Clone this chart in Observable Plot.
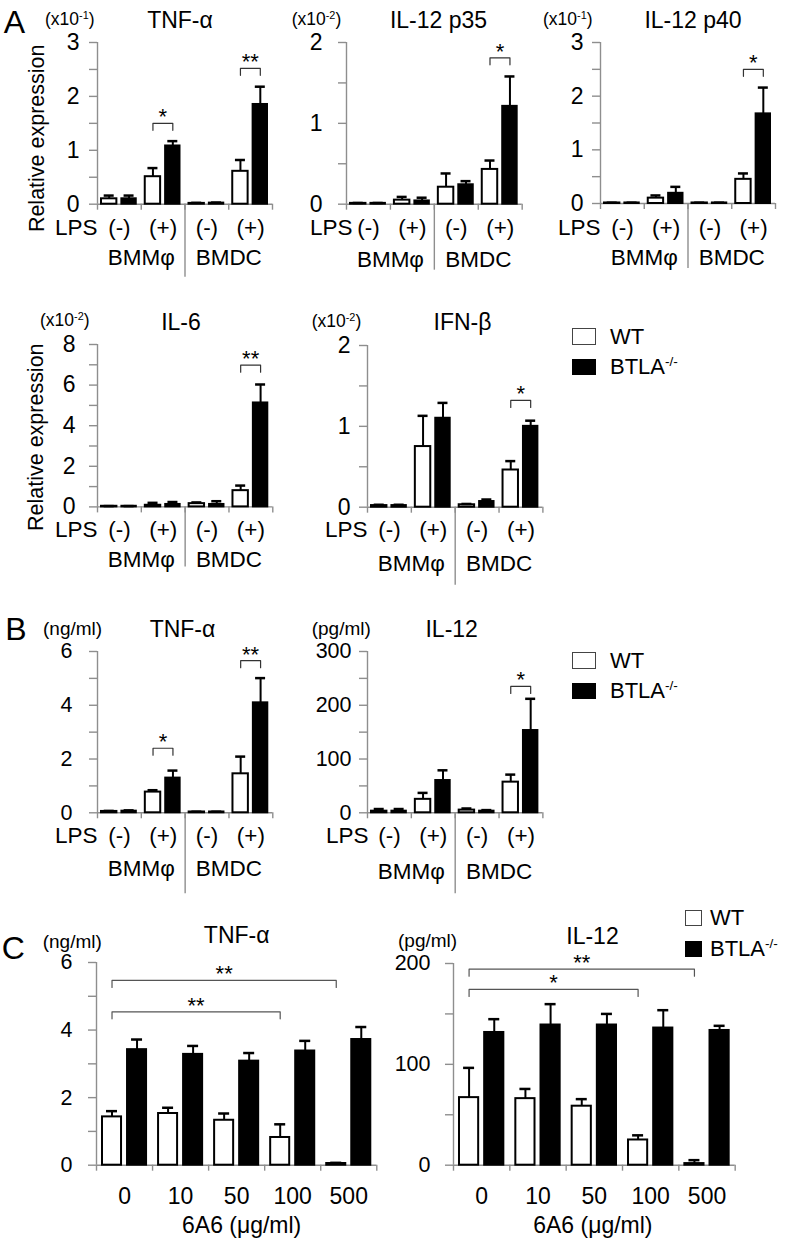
<!DOCTYPE html>
<html><head><meta charset="utf-8">
<script src="https://cdn.jsdelivr.net/npm/d3@7"></script>
<script src="https://cdn.jsdelivr.net/npm/@observablehq/plot@0.6"></script>
<style>
body{margin:0;background:#fff;}
#fig{position:relative;width:796px;height:1238px;overflow:hidden;font-family:"Liberation Sans",Arial,Helvetica,sans-serif;color:#000;background:#fff;}
.ttl{position:absolute;transform:translate(-50%,-50%);white-space:nowrap;line-height:1;}
.unit{position:absolute;transform:translateY(-50%);white-space:nowrap;line-height:1;}
sup{font-size:0.62em;vertical-align:0.6em;line-height:0;}
.letter{position:absolute;transform:translate(-50%,-50%);font-size:32px;line-height:1;}
.sq{position:absolute;box-sizing:border-box;}
.leg{position:absolute;transform:translateY(-50%);font-size:22px;line-height:1;white-space:nowrap;}
</style></head><body><div id="fig"></div><script>
// ---------- data ----------
const stimGroups = ["BMMφ (-)", "BMMφ (+)", "BMDC (-)", "BMDC (+)"];
const lpsLabels = ["(-)", "(+)", "(-)", "(+)"];
const cellTypes = ["BMMφ", "BMDC"];
const doses = ["0", "10", "50", "100", "500"];
const genotypes = ["WT", "BTLA-/-"];

// A: relative expression (mRNA)
const tnfA_wt = [0.10, 0.51, 0.015, 0.61], tnfA_wtSD = [0.06, 0.16, 0.01, 0.21];
const tnfA_ko = [0.10, 1.08, 0.02, 1.85], tnfA_koSD = [0.06, 0.09, 0.01, 0.33];
const tnfA_sig = [{group: 1, level: 1.50, label: "*"}, {group: 3, level: 2.52, label: "**"}];

const p35_wt = [0.01, 0.05, 0.21, 0.43], p35_wtSD = [0.005, 0.04, 0.17, 0.11];
const p35_ko = [0.01, 0.04, 0.24, 1.21], p35_koSD = [0.005, 0.04, 0.045, 0.37];
const p35_sig = [{group: 3, level: 1.81, label: "*"}];

const p40_wt = [0.01, 0.10, 0.01, 0.45], p40_wtSD = [0.005, 0.05, 0.005, 0.11];
const p40_ko = [0.01, 0.19, 0.01, 1.67], p40_koSD = [0.005, 0.12, 0.005, 0.49];
const p40_sig = [{group: 3, level: 2.50, label: "*"}];

const il6_wt = [0.03, 0.08, 0.16, 0.80], il6_wtSD = [0.01, 0.12, 0.06, 0.25];
const il6_ko = [0.03, 0.12, 0.12, 5.12], il6_koSD = [0.01, 0.12, 0.16, 0.91];
const il6_sig = [{group: 3, level: 6.98, label: "**"}];

const ifnb_wt = [0.02, 0.75, 0.03, 0.46], ifnb_wtSD = [0.01, 0.38, 0.01, 0.11];
const ifnb_ko = [0.02, 1.10, 0.07, 1.00], ifnb_koSD = [0.01, 0.19, 0.025, 0.07];
const ifnb_sig = [{group: 3, level: 1.32, label: "*"}];

// B: secreted protein
const tnfB_wt = [0.05, 0.77, 0.03, 1.45], tnfB_wtSD = [0.02, 0.07, 0.01, 0.64];
const tnfB_ko = [0.06, 1.29, 0.03, 4.09], tnfB_koSD = [0.03, 0.28, 0.01, 0.92];
const tnfB_sig = [{group: 1, level: 2.40, label: "*"}, {group: 3, level: 5.66, label: "**"}];

const il12B_wt = [3, 25, 5, 57], il12B_wtSD = [4, 12, 3, 14];
const il12B_ko = [3, 60, 3, 153], il12B_koSD = [4, 19, 2, 59];
const il12B_sig = [{group: 3, level: 235, label: "*"}];

// C: anti-BTLA 6A6 dose
const tnfC_wt = [1.43, 1.53, 1.33, 0.82, 0.05], tnfC_wtSD = [0.17, 0.17, 0.20, 0.39, 0.02];
const tnfC_ko = [3.42, 3.28, 3.08, 3.38, 3.72], tnfC_koSD = [0.30, 0.25, 0.24, 0.30, 0.37];
const tnfC_sig = [{from: 0, to: 3, level: 4.54, label: "**"}, {from: 0, to: 4, level: 5.47, label: "**"}];

const il12C_wt = [67, 66, 58.5, 25, 1.6], il12C_wtSD = [29.5, 9.6, 7, 4.6, 3.4];
const il12C_ko = [131.6, 139, 139, 136, 133.6], il12C_koSD = [13.2, 20.7, 11, 17.7, 4.6];
const il12C_sig = [{from: 0, to: 3, level: 174.3, label: "*"}, {from: 0, to: 4, level: 194.4, label: "**"}];

// ---------- drawing ----------
const FONT = '"Liberation Sans", Arial, Helvetica, sans-serif';
const GRAY = "#8e8e8e";
const LABEL_SIZE = 22.5;
const fig = document.getElementById("fig");
const geoA = {wtIn: [4, 2.5], koIn: [2.5, 5], wtDx: 0.75, koDx: -1.25, cap: 5};
const geoC = {wtIn: [6, 3], koIn: [3, 6], wtDx: 1.5, koDx: -1.5, cap: 5.5};

function buildPanel(s) {
  const n = s.groups.length;
  const ml = 75, mr = 10, mt = 12, mb = 95;
  const W = ml + s.innerW + mr, H = mt + s.innerH + mb;
  const ux = p => p * n / s.innerW;
  const uy = p => p * s.ymax / s.innerH;
  const g = s.geo;
  const rows = s.groups.map((name, i) => ({i, name, wt: s.wt[i], wtSD: s.wtSD[i], ko: s.ko[i], koSD: s.koSD[i]}));
  const cWT = i => i + 0.25 + ux(g.wtDx);
  const cKO = i => i + 0.75 + ux(g.koDx);
  const ticks = d3.range(0, s.ymax + 1e-9, s.tickStep);
  const fmt = d => Math.abs(d / s.labelStep - Math.round(d / s.labelStep)) < 1e-9 ? String(d) : "";
  const brackets = s.sig.map((b, k) => ({
    id: k, level: b.level, label: b.label,
    x1: s.kind === "lps" ? cWT(b.group) : cWT(b.from),
    x2: s.kind === "lps" ? cKO(b.group) : cWT(b.to)
  }));
  const leg = uy(7);
  const bracketPts = brackets.flatMap(b => [
    {id: b.id, x: b.x1, y: b.level - leg}, {id: b.id, x: b.x1, y: b.level},
    {id: b.id, x: b.x2, y: b.level}, {id: b.id, x: b.x2, y: b.level - leg}
  ]);
  const marks = [
    Plot.ruleY([0], {stroke: GRAY, strokeWidth: 1.4}),
    Plot.ruleX(d3.range(n + 1), {x: d => d, y1: 0, y2: -uy(6), stroke: GRAY, strokeWidth: 1.4}),
    Plot.ruleX([0], {x: d => d, y1: 0, y2: s.ymax, stroke: GRAY, strokeWidth: 1.4}),
    Plot.axisY({ticks, tickFormat: fmt, tickSize: 8, tickPadding: s.tickPad, stroke: GRAY, strokeWidth: 1.4, fontSize: s.tickFont, label: null}),
    Plot.rect(rows, {x1: d => d.i, x2: d => d.i + 0.5, y1: 0, y2: "wt", fill: "white", stroke: "black", strokeWidth: 2, insetLeft: g.wtIn[0], insetRight: g.wtIn[1]}),
    Plot.rect(rows, {x1: d => d.i + 0.5, x2: d => d.i + 1, y1: 0, y2: "ko", fill: "black", stroke: "black", strokeWidth: 2, insetLeft: g.koIn[0], insetRight: g.koIn[1]}),
    Plot.ruleX(rows, {x: d => cWT(d.i), y1: "wt", y2: d => d.wt + d.wtSD, stroke: "black", strokeWidth: 2}),
    Plot.ruleY(rows, {y: d => d.wt + d.wtSD, x1: d => cWT(d.i) - ux(g.cap), x2: d => cWT(d.i) + ux(g.cap), stroke: "black", strokeWidth: 2.5}),
    Plot.ruleX(rows, {x: d => cKO(d.i), y1: "ko", y2: d => d.ko + d.koSD, stroke: "black", strokeWidth: 2}),
    Plot.ruleY(rows, {y: d => d.ko + d.koSD, x1: d => cKO(d.i) - ux(g.cap), x2: d => cKO(d.i) + ux(g.cap), stroke: "black", strokeWidth: 2.5}),
    Plot.line(bracketPts, {x: "x", y: "y", z: "id", stroke: s.bracketColor, strokeWidth: 1.2}),
    Plot.text(brackets, {x: d => (d.x1 + d.x2) / 2, y: "level", text: "label", lineAnchor: "bottom", dy: 1, fontSize: 22})
  ];
  if (s.kind === "lps") {
    marks.push(
      Plot.text(rows, {x: d => d.i + 0.5, y: 0, text: d => lpsLabels[d.i], dy: s.lpsDy, fontSize: LABEL_SIZE}),
      Plot.text(["LPS"], {x: 0, y: 0, dx: s.lpsDx, dy: s.lpsDy, textAnchor: "end", fontSize: LABEL_SIZE}),
      Plot.text(cellTypes, {x: (d, i) => 1 + 2 * i, y: 0, dy: s.cellDy, fontSize: LABEL_SIZE}),
      Plot.ruleX([2], {x: d => d, y1: 0, y2: -uy(s.sepLen), stroke: GRAY, strokeWidth: 1.4})
    );
  } else {
    marks.push(
      Plot.text(rows, {x: d => d.i + 0.5, y: 0, text: "name", dy: s.doseDy, fontSize: 23}),
      Plot.text([s.xLabel], {x: n / 2, y: 0, dx: s.xLabelDx, dy: s.xLabelDy, fontSize: 23})
    );
  }
  if (s.rel) {
    marks.push(Plot.text(["Relative expression"], {frameAnchor: "left", textAnchor: "middle", rotate: -90, dx: s.rel.dx, dy: s.rel.dy, fontSize: 21.5}));
  }
  const svg = Plot.plot({
    width: W, height: H, marginLeft: ml, marginRight: mr, marginTop: mt, marginBottom: mb,
    x: {domain: [0, n], axis: null},
    y: {domain: [0, s.ymax], axis: null},
    style: {background: "transparent", overflow: "visible", fontFamily: FONT, fontSize: "20px", color: "black"},
    marks
  });
  svg.style.position = "absolute";
  svg.style.left = (s.axisX - ml) + "px";
  svg.style.top = (s.axisTop - mt) + "px";
  fig.appendChild(svg);

  const t = document.createElement("div");
  t.className = "ttl"; t.textContent = s.title;
  t.style.left = s.titlePos[0] + "px"; t.style.top = s.titlePos[1] + "px"; t.style.fontSize = "23px";
  fig.appendChild(t);
  const u = document.createElement("div");
  u.className = "unit"; u.innerHTML = s.unit;
  u.style.left = s.unitPos[0] + "px"; u.style.top = s.unitPos[1] + "px"; u.style.fontSize = s.unitSize + "px";
  fig.appendChild(u);
}

const lpsBase = {kind: "lps", groups: stimGroups, geo: geoA, bracketColor: "#333"};
const doseBase = {kind: "dose", groups: doses, geo: geoC, bracketColor: "#555", xLabel: "6A6 (μg/ml)", doseDy: 31.7, xLabelDy: 60};

const panels = [
  {...lpsBase, title: "TNF-α", unit: "(x10<sup>-1</sup>)", wt: tnfA_wt, wtSD: tnfA_wtSD, ko: tnfA_ko, koSD: tnfA_koSD, sig: tnfA_sig,
   ymax: 3, tickStep: 0.5, labelStep: 1, axisX: 96.7, axisTop: 42.3, innerW: 175, innerH: 161.7, tickFont: 23, tickPad: 10,
   lpsDy: 24, lpsDx: 0, cellDy: 53.5, sepLen: 73, rel: {dx: -60, dy: 15}, titlePos: [180, 20], unitPos: [45, 19.5], unitSize: 17.5},
  {...lpsBase, title: "IL-12 p35", unit: "(x10<sup>-2</sup>)", wt: p35_wt, wtSD: p35_wtSD, ko: p35_ko, koSD: p35_koSD, sig: p35_sig,
   ymax: 2, tickStep: 0.5, labelStep: 1, axisX: 346, axisTop: 42.3, innerW: 175.7, innerH: 161.7, tickFont: 23, tickPad: 16,
   lpsDy: 24, lpsDx: 6, cellDy: 56, sepLen: 66, titlePos: [438.5, 20], unitPos: [291.7, 19.5], unitSize: 17.5},
  {...lpsBase, title: "IL-12 p40", unit: "(x10<sup>-1</sup>)", wt: p40_wt, wtSD: p40_wtSD, ko: p40_ko, koSD: p40_koSD, sig: p40_sig,
   ymax: 3, tickStep: 0.5, labelStep: 1, axisX: 600, axisTop: 42.3, innerW: 175, innerH: 161, tickFont: 23, tickPad: 9,
   lpsDy: 24.5, lpsDx: 0, cellDy: 54.7, sepLen: 65, titlePos: [693, 20], unitPos: [543, 19.5], unitSize: 17.5},
  {...lpsBase, title: "IL-6", unit: "(x10<sup>-2</sup>)", wt: il6_wt, wtSD: il6_wtSD, ko: il6_ko, koSD: il6_koSD, sig: il6_sig,
   ymax: 8, tickStep: 1, labelStep: 2, axisX: 96.7, axisTop: 344.3, innerW: 175.3, innerH: 162.4, tickFont: 23, tickPad: 14,
   lpsDy: 23, lpsDx: 0, cellDy: 52.5, sepLen: 60, rel: {dx: -61, dy: 11.5}, titlePos: [181, 322], unitPos: [40, 321], unitSize: 17.5},
  {...lpsBase, title: "IFN-β", unit: "(x10<sup>-2</sup>)", wt: ifnb_wt, wtSD: ifnb_wtSD, ko: ifnb_ko, koSD: ifnb_koSD, sig: ifnb_sig,
   ymax: 2, tickStep: 0.5, labelStep: 1, axisX: 367.3, axisTop: 345, innerW: 175.4, innerH: 161.7, tickFont: 23, tickPad: 9,
   lpsDy: 23, lpsDx: 0, cellDy: 56.6, sepLen: 78, titlePos: [462.5, 322], unitPos: [311.7, 321.5], unitSize: 17.5},
  {...lpsBase, title: "TNF-α", unit: "(ng/ml)", wt: tnfB_wt, wtSD: tnfB_wtSD, ko: tnfB_ko, koSD: tnfB_koSD, sig: tnfB_sig,
   ymax: 6, tickStep: 1, labelStep: 2, axisX: 96.7, axisTop: 651, innerW: 175.3, innerH: 161.3, tickFont: 21.5, tickPad: 17,
   lpsDy: 23.5, lpsDx: 0, cellDy: 56, sepLen: 81, titlePos: [182.5, 629], unitPos: [43, 628], unitSize: 19},
  {...lpsBase, title: "IL-12", unit: "(pg/ml)", wt: il12B_wt, wtSD: il12B_wtSD, ko: il12B_ko, koSD: il12B_koSD, sig: il12B_sig,
   ymax: 300, tickStep: 50, labelStep: 100, axisX: 367.3, axisTop: 651, innerW: 175.4, innerH: 161.3, tickFont: 21.5, tickPad: 8,
   lpsDy: 23.5, lpsDx: 1, cellDy: 59, sepLen: 81, titlePos: [451.7, 629], unitPos: [311.7, 628], unitSize: 19},
  {...doseBase, title: "TNF-α", unit: "(ng/ml)", wt: tnfC_wt, wtSD: tnfC_wtSD, ko: tnfC_ko, koSD: tnfC_koSD, sig: tnfC_sig,
   ymax: 6, tickStep: 1, labelStep: 2, axisX: 95.7, axisTop: 962.3, innerW: 280.3, innerH: 202.7, tickFont: 21.5, tickPad: 16,
   xLabelDx: 5, titlePos: [236.7, 935], unitPos: [42.7, 941], unitSize: 19},
  {...doseBase, title: "IL-12", unit: "(pg/ml)", wt: il12C_wt, wtSD: il12C_wtSD, ko: il12C_ko, koSD: il12C_koSD, sig: il12C_sig,
   ymax: 200, tickStep: 50, labelStep: 100, axisX: 453.3, axisTop: 963.3, innerW: 281.7, innerH: 201.7, tickFont: 21.5, tickPad: 15,
   xLabelDx: -1.5, titlePos: [592.5, 936], unitPos: [398, 940], unitSize: 19}
];
panels.forEach(buildPanel);

// panel letters
[["A", 14.5, 21.5], ["B", 15.8, 629], ["C", 13.3, 948]].forEach(([t, x, y]) => {
  const d = document.createElement("div");
  d.className = "letter"; d.textContent = t; d.style.left = x + "px"; d.style.top = y + "px";
  fig.appendChild(d);
});

// legends
function legend(x, yWT, yKO, sqW, sqH, textX) {
  [[0, yWT], [1, yKO]].forEach(([k, y]) => {
    const sq = document.createElement("div");
    sq.className = "sq";
    sq.style.left = x + "px"; sq.style.top = (y - sqH / 2) + "px";
    sq.style.width = sqW + "px"; sq.style.height = sqH + "px";
    sq.style.background = k === 0 ? "white" : "black";
    sq.style.border = k === 0 ? "1.5px solid #444" : "none";
    fig.appendChild(sq);
    const t = document.createElement("div");
    t.className = "leg";
    t.innerHTML = k === 0 ? genotypes[0] : "BTLA<sup>-/-</sup>";
    t.style.left = textX + "px"; t.style.top = y + "px";
    fig.appendChild(t);
  });
}
legend(572, 336.5, 367, 24, 16.5, 610);
legend(572, 660.5, 691, 24, 16.5, 610);
legend(685, 917.5, 948.5, 17, 16, 710);
</script></body></html>
